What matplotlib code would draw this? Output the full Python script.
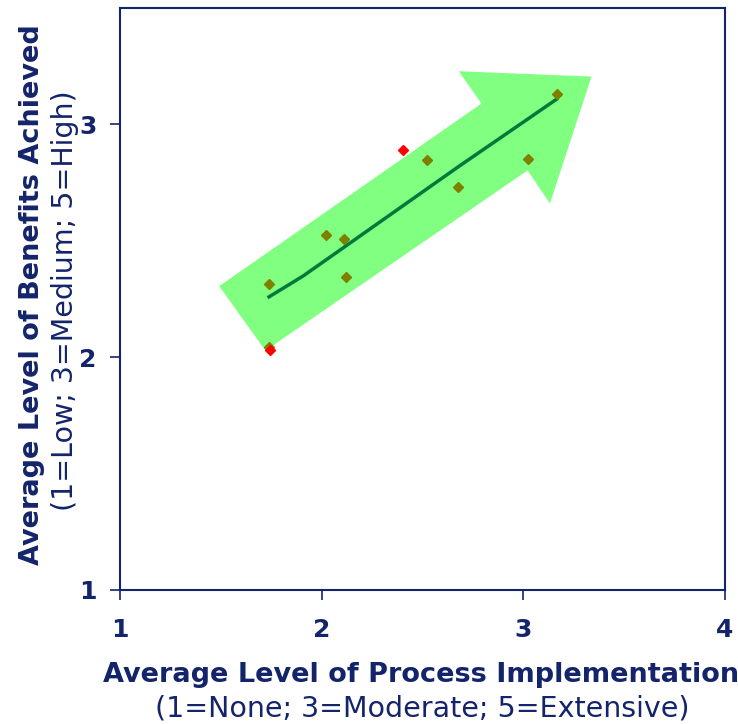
import numpy as np
import matplotlib
matplotlib.use('Agg')
import matplotlib.pyplot as plt
from matplotlib.patches import Polygon

# data
impl_olive = [1.739, 2.023, 2.109, 2.119, 2.523, 2.677, 3.021, 3.167, 1.738]
benef_olive = [2.315, 2.524, 2.508, 2.343, 2.845, 2.732, 2.852, 3.129, 2.044]
impl_red = [1.746, 2.402]
benef_red = [2.032, 2.889]

trend_x = [1.739, 1.907, 2.129, 2.683, 2.989, 3.165]
trend_y = [2.259, 2.348, 2.483, 2.821, 3.003, 3.108]

# the big arrow behind the points (outline in data units)
arrow_outline = [(1.492, 2.305), (1.721, 2.028), (3.021, 2.802), (3.132, 2.660),
                 (3.338, 3.205), (2.680, 3.228), (2.792, 3.089)]

navy = '#14246a'
W, H = 738, 724

fig = plt.figure(figsize=(7.38, 7.24), dpi=100)
ax = fig.add_axes([0.1626, 0.1851, 0.8198, 0.804])

ax.add_patch(Polygon(arrow_outline, closed=True, facecolor='#80ff80', edgecolor='none', zorder=1))
ax.plot(trend_x, trend_y, color='#007a3a', lw=2.5, zorder=2)
ax.plot(impl_olive, benef_olive, 'D', color='#808000', ms=5.5, zorder=3)
ax.plot(impl_red, benef_red, 'D', color='#ff0000', ms=5.5, zorder=4)

ax.set_xlim(1, 4)
ax.set_ylim(1, 3.5)
ax.set_xticks([1, 2, 3, 4])
ax.set_yticks([1, 2, 3])
for s in ax.spines.values():
    s.set_color(navy)
    s.set_linewidth(1.5)
ax.tick_params(colors=navy, labelsize=18, width=1.2, length=7, direction='out')
ax.tick_params(axis='x', pad=13)
ax.tick_params(axis='y', pad=10)
for lab in ax.get_xticklabels() + ax.get_yticklabels():
    lab.set_fontweight('bold')

fig.text(421 / W, 1 - 682 / H, 'Average Level of Process Implementation', ha='center',
         va='baseline', fontsize=19.5, fontweight='bold', color=navy)
fig.text(422 / W, 1 - 717 / H, '(1=None; 3=Moderate; 5=Extensive)', ha='center',
         va='baseline', fontsize=20.5, color=navy)
fig.text(39 / W, 1 - 565 / H, 'Average Level of Benefits Achieved', rotation=90,
         rotation_mode='anchor', ha='left', va='baseline', fontsize=19.5,
         fontweight='bold', color=navy)
fig.text(65 / W, 1 - 301 / H, '(1=Low; 3=Medium; 5=High)', rotation=90,
         ha='center', va='center', fontsize=20.5, color=navy)

fig.savefig('out.png', dpi=100)
